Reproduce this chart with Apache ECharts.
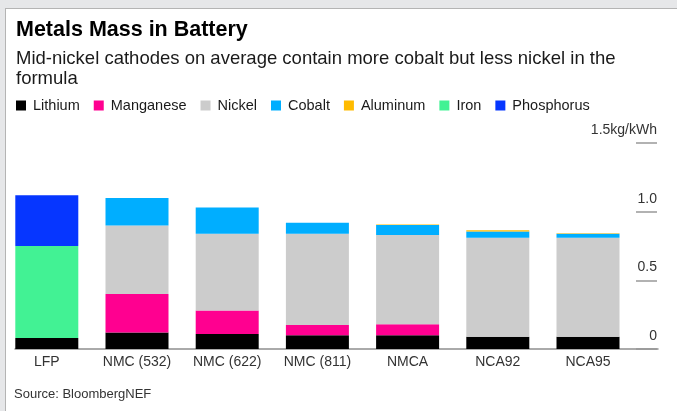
<!DOCTYPE html>
<html>
<head>
<meta charset="utf-8">
<script src="https://cdn.jsdelivr.net/npm/echarts@6/dist/echarts.min.js"></script>
<style>
  html, body { margin: 0; padding: 0; width: 677px; height: 411px; overflow: hidden; background: #e6e7e9; }
  #panel { position: absolute; left: 5px; top: 8px; width: 672px; height: 403px; background: #fff; border-left: 1px solid #b4b4b4; border-top: 1px solid #b4b4b4; box-sizing: border-box; }
  #chart { position: absolute; left: 0; top: 0; width: 677px; height: 411px; }
</style>
</head>
<body>
<div id="panel"></div>
<div id="chart"></div>
<script>
const categories = ['LFP', 'NMC (532)', 'NMC (622)', 'NMC (811)', 'NMCA', 'NCA92', 'NCA95'];
const lithium    = [0.08, 0.12, 0.11, 0.10, 0.10, 0.09, 0.09];
const manganese  = [0, 0.28, 0.17, 0.075, 0.08, 0, 0];
const nickel     = [0, 0.50, 0.56, 0.665, 0.65, 0.72, 0.72];
const cobalt     = [0, 0.20, 0.19, 0.08, 0.073, 0.045, 0.03];
const aluminum   = [0, 0, 0, 0, 0.004, 0.01, 0.003];
const iron       = [0.67, 0, 0, 0, 0, 0, 0];
const phosphorus = [0.37, 0, 0, 0, 0, 0, 0];
const yTicks = [0, 0.5, 1.0, 1.5];
const yUnit = 'kg/kWh';

const FONT = '"Liberation Sans", Arial, sans-serif';
const seriesDefs = [
  ['Lithium', lithium, '#000000'],
  ['Manganese', manganese, '#ff0090'],
  ['Nickel', nickel, '#cccccc'],
  ['Cobalt', cobalt, '#00aeff'],
  ['Aluminum', aluminum, '#ffbb00'],
  ['Iron', iron, '#42f294'],
  ['Phosphorus', phosphorus, '#0636ff']
];

const chart = echarts.init(document.getElementById('chart'), null, { renderer: 'canvas' });
chart.setOption({
  backgroundColor: 'transparent',
  animation: false,
  title: [
    { text: 'Metals Mass in Battery', left: 16, top: 20, padding: 0,
      textStyle: { fontFamily: FONT, fontSize: 21.5, fontWeight: 'bold', color: '#000', lineHeight: 20 } },
    { text: 'Mid-nickel cathodes on average contain more cobalt but less nickel in the\nformula', left: 16, top: 49, padding: 0,
      textStyle: { fontFamily: FONT, fontSize: 18.5, fontWeight: 'normal', color: '#1a1a1a', lineHeight: 20 } },
    { text: 'Source: BloombergNEF', left: 14, top: 387, padding: 0,
      textStyle: { fontFamily: FONT, fontSize: 13, fontWeight: 'normal', color: '#333', lineHeight: 14 } }
  ],
  legend: {
    left: 16, top: 98, padding: 0,
    itemWidth: 10, itemHeight: 10, itemGap: 14,
    icon: 'rect',
    textStyle: { fontFamily: FONT, fontSize: 14.5, color: '#1a1a1a', padding: [0, 0, 0, 2] },
    data: seriesDefs.map(d => d[0])
  },
  grid: [
    { left: 1.7, width: 631.4, top: 143, height: 206 },
    { left: 15, right: 19, top: 143, height: 206 }
  ],
  xAxis: [
    { type: 'category', gridIndex: 0, data: categories,
      axisLine: { show: false }, axisTick: { show: false },
      axisLabel: { fontFamily: FONT, fontSize: 14, color: '#333', margin: 6 } },
    { type: 'value', gridIndex: 1, min: 0, max: 1,
      axisLine: { show: true, lineStyle: { color: '#8f8f8f', width: 1.5 } },
      axisTick: { show: false }, axisLabel: { show: false }, splitLine: { show: false } }
  ],
  yAxis: [
    { type: 'value', gridIndex: 0, min: 0, max: 1.5, show: false },
    { type: 'value', gridIndex: 1, position: 'right', offset: -22, min: 0, max: 1.5, interval: 0.5,
      axisLine: { show: false, onZero: false },
      axisTick: { show: true, inside: false, length: 21, lineStyle: { color: '#999', width: 1.5 } },
      splitLine: { show: false },
      axisLabel: { inside: false, margin: 21, align: 'right', fontFamily: FONT, fontSize: 14, color: '#333',
        verticalAlign: 'bottom', padding: [0, 0, 6, 0],
        formatter: function (v) {
          if (v === 0) return '0';
          const s = v.toFixed(1);
          return v === yTicks[yTicks.length - 1] ? s + yUnit : s;
        } } }
  ],
  series: seriesDefs.map(d => ({
    name: d[0], type: 'bar', stack: 'total', xAxisIndex: 0, yAxisIndex: 0,
    data: d[1], barWidth: 63, itemStyle: { color: d[2] }
  }))
});
</script>
</body>
</html>
